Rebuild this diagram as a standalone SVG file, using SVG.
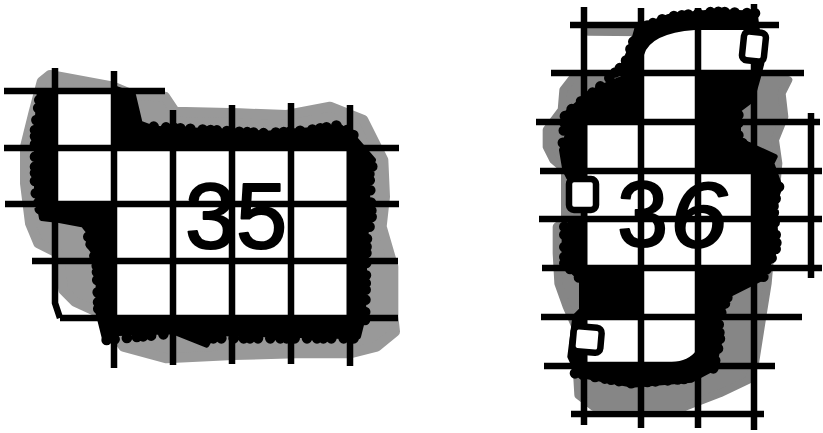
<svg xmlns="http://www.w3.org/2000/svg" width="823" height="433" viewBox="0 0 823 433">
<style>
.g1{fill:#999;stroke:#999;stroke-width:30;stroke-linejoin:round}
.g2{fill:#868686;stroke:#868686;stroke-width:24;stroke-linejoin:round}
.b{fill:#000;stroke:#000;stroke-width:16;stroke-linejoin:round}
.f{fill:#000}
.bump{fill:none;stroke:#000;stroke-width:32;stroke-linecap:round;stroke-linejoin:round;stroke-dasharray:0 24 0 37 0 30 0 19}
.w{fill:#fff}
.grid{stroke:#000;stroke-width:6.5;fill:none}
.sq{fill:#fff;stroke:#000;stroke-width:6.5;stroke-linejoin:round}
.num{font-family:"Liberation Sans",Arial,sans-serif;font-size:92px;fill:#000;stroke:#000;stroke-width:2;stroke-linejoin:round}
</style>
<g id="figure-35">
<g transform="translate(0,50) scale(.33333)">
<path class="g1" d="M125 95L150 75L340 110L400 135L495 140L525 185L720 190L860 195L990 170L1090 210L1125 280L1150 330L1155 440L1145 530L1180 650L1180 800L1185 845L1130 890L1050 910L890 910L700 915L500 925L370 890L300 790L225 755L190 720L175 610L115 580L90 520L75 400L75 290L100 190Z"/>
<path class="b" d="M118 130L110 240L110 420L125 505L170 510L250 525L270 550L265 585L295 625L295 790L315 870L355 850L520 845L620 885L640 850L1075 860L1090 800L1095 570L1105 500L1100 370L1120 330L1060 260L1020 230L930 240L800 250L460 235L420 220L400 135L345 115L345 130Z"/>
<path class="bump" d="M118 150L105 240L105 420L125 500M265 560L290 640L295 780M320 870L520 850M640 865L1080 865M1095 810L1100 570L1115 500L1108 370L1125 330M1060 255L1020 225L930 240L800 250L460 230"/>
<path class="w" d="M172 130H335V300H1040V315V795H345V465H172Z"/>
</g>
<path class="grid" d="M55 68V303L60 318M114 71V368M173 110V365M232 105V364M291 103V364M350 105V366M4 91H165M4 148H399M5 204H399M32 261H398M60 318H398"/>
<text class="num" x="185" y="248">3</text><text class="num" x="236" y="248">5</text>
</g>
<g id="figure-36">
<g transform="translate(525,0) scale(.33333)">
<path class="g2" d="M190 95H330V225H150L115 270L110 330L65 390L65 440L85 480L120 510V660L95 680L95 760L100 850L125 920L160 1000L155 1100L160 1185L205 1220L480 1220L585 1180L670 1140L690 1090L712 950L728 850L760 490L750 420L778 350L770 280L790 240H690V100Z"/>
<path class="b" d="M325 125L300 185L305 230L220 265L160 310L118 345L130 400L110 450L120 510L130 530L205 640L118 680L118 790L170 840L170 930L150 950L135 1070L160 1125L320 1155L500 1140L565 1105L585 1020L580 960L610 885L710 835L755 740L745 620L765 560L740 490L750 470L640 420L640 330L680 300L700 230L710 190L690 40L570 35L430 50L380 70L335 90Z"/>
<path class="bump" d="M325 125L300 190L220 265L160 310L120 345L112 450M118 680L118 790L165 835M150 1120L320 1150L500 1135M565 1105L585 1020L580 960L610 885M715 830L755 740L745 620L765 550M640 345L640 420L680 450M690 40L570 35L430 50L335 90"/>
<path class="w" d="M357 355V165Q375 100 510 90H690V215H515V505H687V795H515V1050Q490 1085 440 1085H187V950H342V800H187V505H187V372H342V355Z"/>
<path class="f" d="M187 800H342V945H187ZM515 215H640V505H515Z"/>
<path class="w" d="M340 800H515V950H340Z"/>
</g>
<path class="grid" d="M584 7V425M641 8V428M698 8V428M754 4V430M811 113V278M570 25H779M551 73H804M536 122H820M540 171H822M539 219H822M542 268H822M541 317H802M544 366H775M571 414H764"/>
<rect class="sq" x="743" y="32" width="22" height="29" rx="5" transform="rotate(6 754 46)"/>
<rect class="sq" x="569" y="179" width="27" height="31" rx="5"/>
<rect class="sq" x="573" y="327" width="28" height="25" rx="5" transform="rotate(5 587 340)"/>
<text class="num" x="617" y="246">3</text><text class="num" font-style="italic" transform="translate(670,247) scale(1.12,1)">6</text>
</g>
</svg>
